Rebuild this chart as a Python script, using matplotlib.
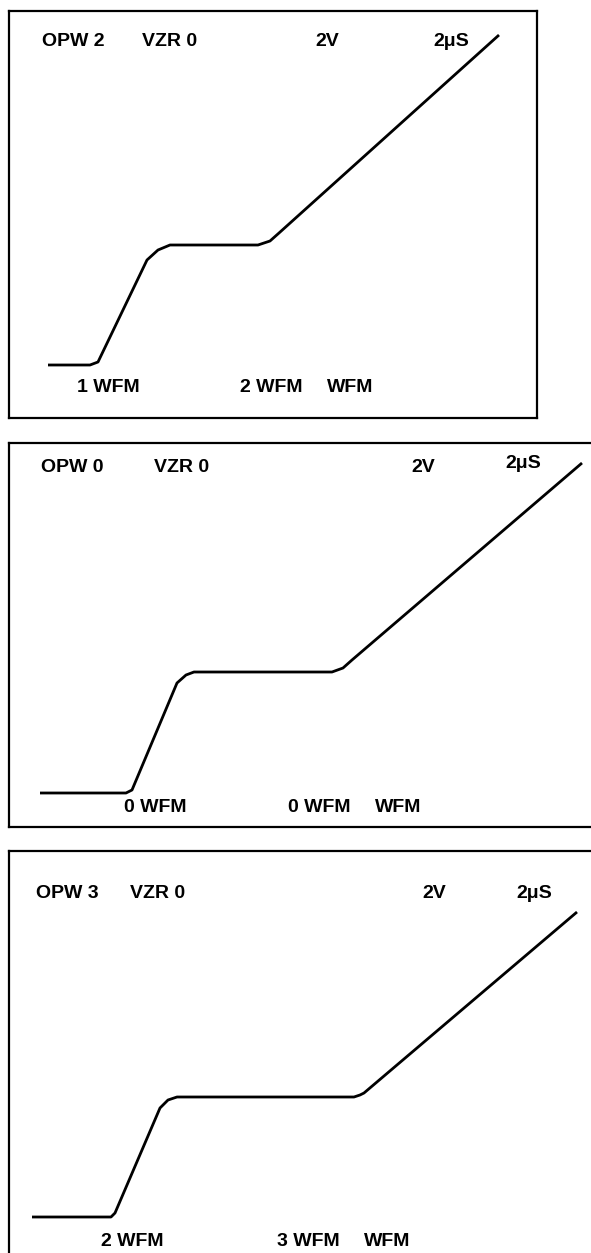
import matplotlib
matplotlib.use("Agg")
import matplotlib.pyplot as plt

# waveform traces (x: time, y: level, in screen units)
t1 = [39, 81, 89, 138, 149, 161, 249, 261, 270, 490]
v1 = [53, 53, 56, 158, 168, 173, 173, 177, 185, 383]

t2 = [31, 117, 123, 168, 177, 185, 323, 334, 343, 573]
v2 = [34, 34, 37, 144, 152, 155, 155, 159, 167, 364]

t3 = [23, 102, 106, 151, 159, 168, 345, 351, 355, 568]
v3 = [43, 43, 47, 152, 160, 163, 163, 165, 167, 348]

# on-screen readouts
opw = ["OPW 2", "OPW 0", "OPW 3"]
vzr = ["VZR 0", "VZR 0", "VZR 0"]
volts = ["2V", "2V", "2V"]
timebase = ["2\u03bcS", "2\u03bcS", "2\u03bcS"]
wfm_a = ["1 WFM", "0 WFM", "2 WFM"]
wfm_b = ["2 WFM", "0 WFM", "3 WFM"]

W, H = 591, 1253
fig = plt.figure(figsize=(W / 100, H / 100), dpi=100)
plt.rcParams['font.family'] = ['Liberation Sans', 'DejaVu Sans']

# panel boxes in pixels: left, top, right, bottom
boxes = [(9, 11, 537, 418), (9, 443, 600, 827), (9, 851, 600, 1260)]
traces = [(t1, v1), (t2, v2), (t3, v3)]

# label anchor positions inside each panel (screen units)
top_pos = [
    [(33, 377), (133, 377), (306, 377), (424, 376)],
    [(32, 360), (145, 360), (402, 360), (496, 364)],
    [(27, 367), (121, 367), (413, 367), (507, 367)],
]
bot_pos = [
    [(68, 30), (231, 30), (318, 30)],
    [(115, 19), (279, 19), (366, 19)],
    [(92, 18), (268, 18), (355, 18)],
]

for i, (l, t, r, b) in enumerate(boxes):
    ax = fig.add_axes([l / W, (H - b) / H, (r - l) / W, (b - t) / H])
    ax.set_xlim(0, r - l)
    ax.set_ylim(0, b - t)
    ax.set_xticks([])
    ax.set_yticks([])
    for s in ax.spines.values():
        s.set_linewidth(1.6)
        s.set_color("black")

    x, y = traces[i]
    ax.plot(x, y, color="black", linewidth=2.0, solid_joinstyle="round",
            solid_capstyle="butt")

    labels = [opw[i], vzr[i], volts[i], timebase[i]]
    for txt, (px, py) in zip(labels, top_pos[i]):
        ax.text(px, py, txt, fontsize=14, fontweight="bold",
                ha="left", va="center")
    for txt, (px, py) in zip([wfm_a[i], wfm_b[i], "WFM"], bot_pos[i]):
        ax.text(px, py, txt, fontsize=14, fontweight="bold",
                ha="left", va="center")

fig.savefig("out.png", dpi=100)
